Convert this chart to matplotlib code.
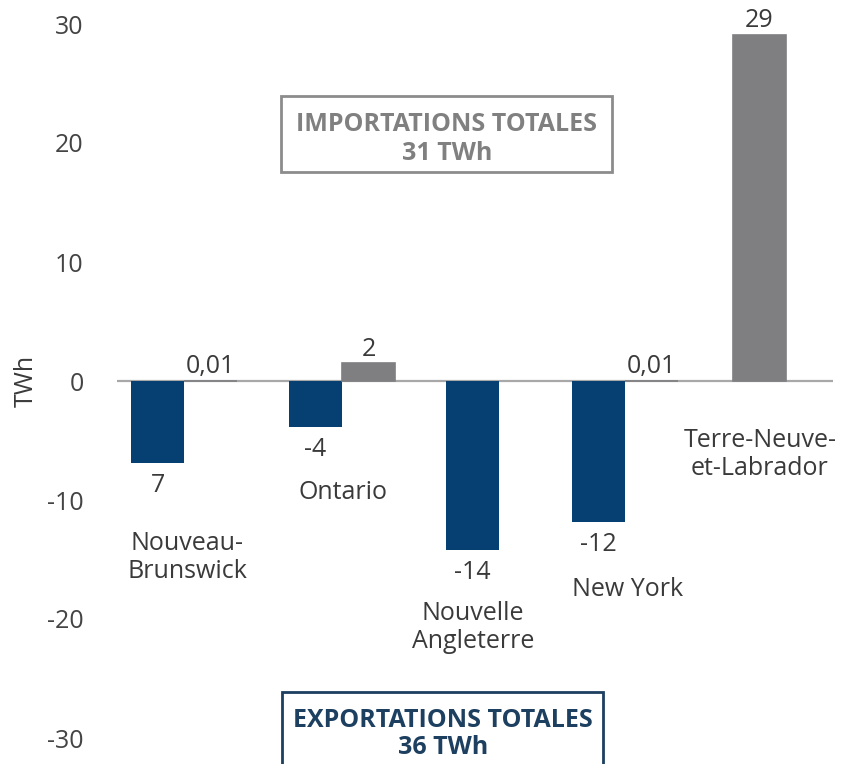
import matplotlib.pyplot as plt
from matplotlib.patches import Rectangle
from matplotlib.ticker import FuncFormatter

plt.rcParams['font.family'] = ['Open Sans', 'DejaVu Sans']

# donnees
regions = ['Nouveau-\nBrunswick', 'Ontario', 'Nouvelle\nAngleterre', 'New York', 'Terre-Neuve-\net-Labrador']
exports = [-6.9, -3.9, -14.2, -11.85, None]
imports = [0.01, 1.5, None, 0.01, 29.1]
exp_labels = ['7', '-4', '-14', '-12', '']
imp_labels = ['0,01', '2', '', '0,01', '29']
yticks = [30, 20, 10, 0, -10, -20, -30]

# mise en page (unites ~pixels en x)
group_x = [184, 342, 499, 625, 733]
bar_w = 53
lab_x = [187, 343, 473, 628, 760]
lab_y = [-14.8, -9.4, -20.7, -17.5, -6.2]

BLUE = '#063f72'
GRAY = '#7f7f81'
TXT = '#3a3a3a'
FS = 18
W, H = 843, 764

fig = plt.figure(figsize=(W / 100, H / 100), dpi=100)
ax = fig.add_axes([117 / W, 0, (833 - 117) / W, 1])
ax.set_xlim(117, 833)
ax.set_ylim(-(H - 381) / 11.9, 381 / 11.9)

for i in range(len(regions)):
    xe = group_x[i] - bar_w / 2
    xi = group_x[i] + bar_w / 2
    if exports[i] is not None:
        ax.bar(xe, exports[i], width=bar_w, color=BLUE, linewidth=0)
        ax.annotate(exp_labels[i], (xe, exports[i]), xytext=(0, -7), textcoords='offset points',
                    ha='center', va='top', fontsize=FS, color=TXT)
    if imports[i] is not None:
        ax.bar(xi, imports[i], width=bar_w, color=GRAY, edgecolor=GRAY, linewidth=1.2)
        ax.annotate(imp_labels[i], (xi, imports[i]), xytext=(0, 1), textcoords='offset points',
                    ha='center', va='bottom', fontsize=FS, color=TXT)
    ax.text(lab_x[i], lab_y[i], regions[i], ha='center', va='center', fontsize=FS,
            color=TXT, linespacing=1.15)

ax.axhline(0, color='#a8a8a8', lw=1.6, zorder=0)

for s in ax.spines.values():
    s.set_visible(False)
ax.set_xticks([])
ax.set_yticks(yticks)
ax.yaxis.set_major_formatter(FuncFormatter(lambda v, p: '%d' % v))
ax.tick_params(axis='y', length=0, pad=24, labelsize=FS, labelcolor='#444444')

# titre de l'axe
fig.text(26 / W, 1 - 381 / H, 'TWh', rotation=90, ha='center', va='center',
         fontsize=FS, color=TXT)

# encadres
def px_rect(x0, y0, x1, y1, color):
    r = Rectangle((x0 / W, 1 - y1 / H), (x1 - x0) / W, (y1 - y0) / H, transform=fig.transFigure,
                  fill=False, edgecolor=color, lw=2)
    fig.patches.append(r)

px_rect(281, 96, 612, 172, '#8c8c8c')
fig.text(447 / W, 1 - 139 / H, 'IMPORTATIONS TOTALES\n31 TWh', ha='center', va='center',
         fontsize=18, fontweight='bold', color='#808080', linespacing=1.25)

px_rect(282, 692, 603, 780, '#1d3f60')
fig.text(443 / W, 1 - 734 / H, 'EXPORTATIONS TOTALES\n36 TWh', ha='center', va='center',
         fontsize=18, fontweight='bold', color='#1d3f60', linespacing=1.15)

fig.savefig('out.png', dpi=100)
